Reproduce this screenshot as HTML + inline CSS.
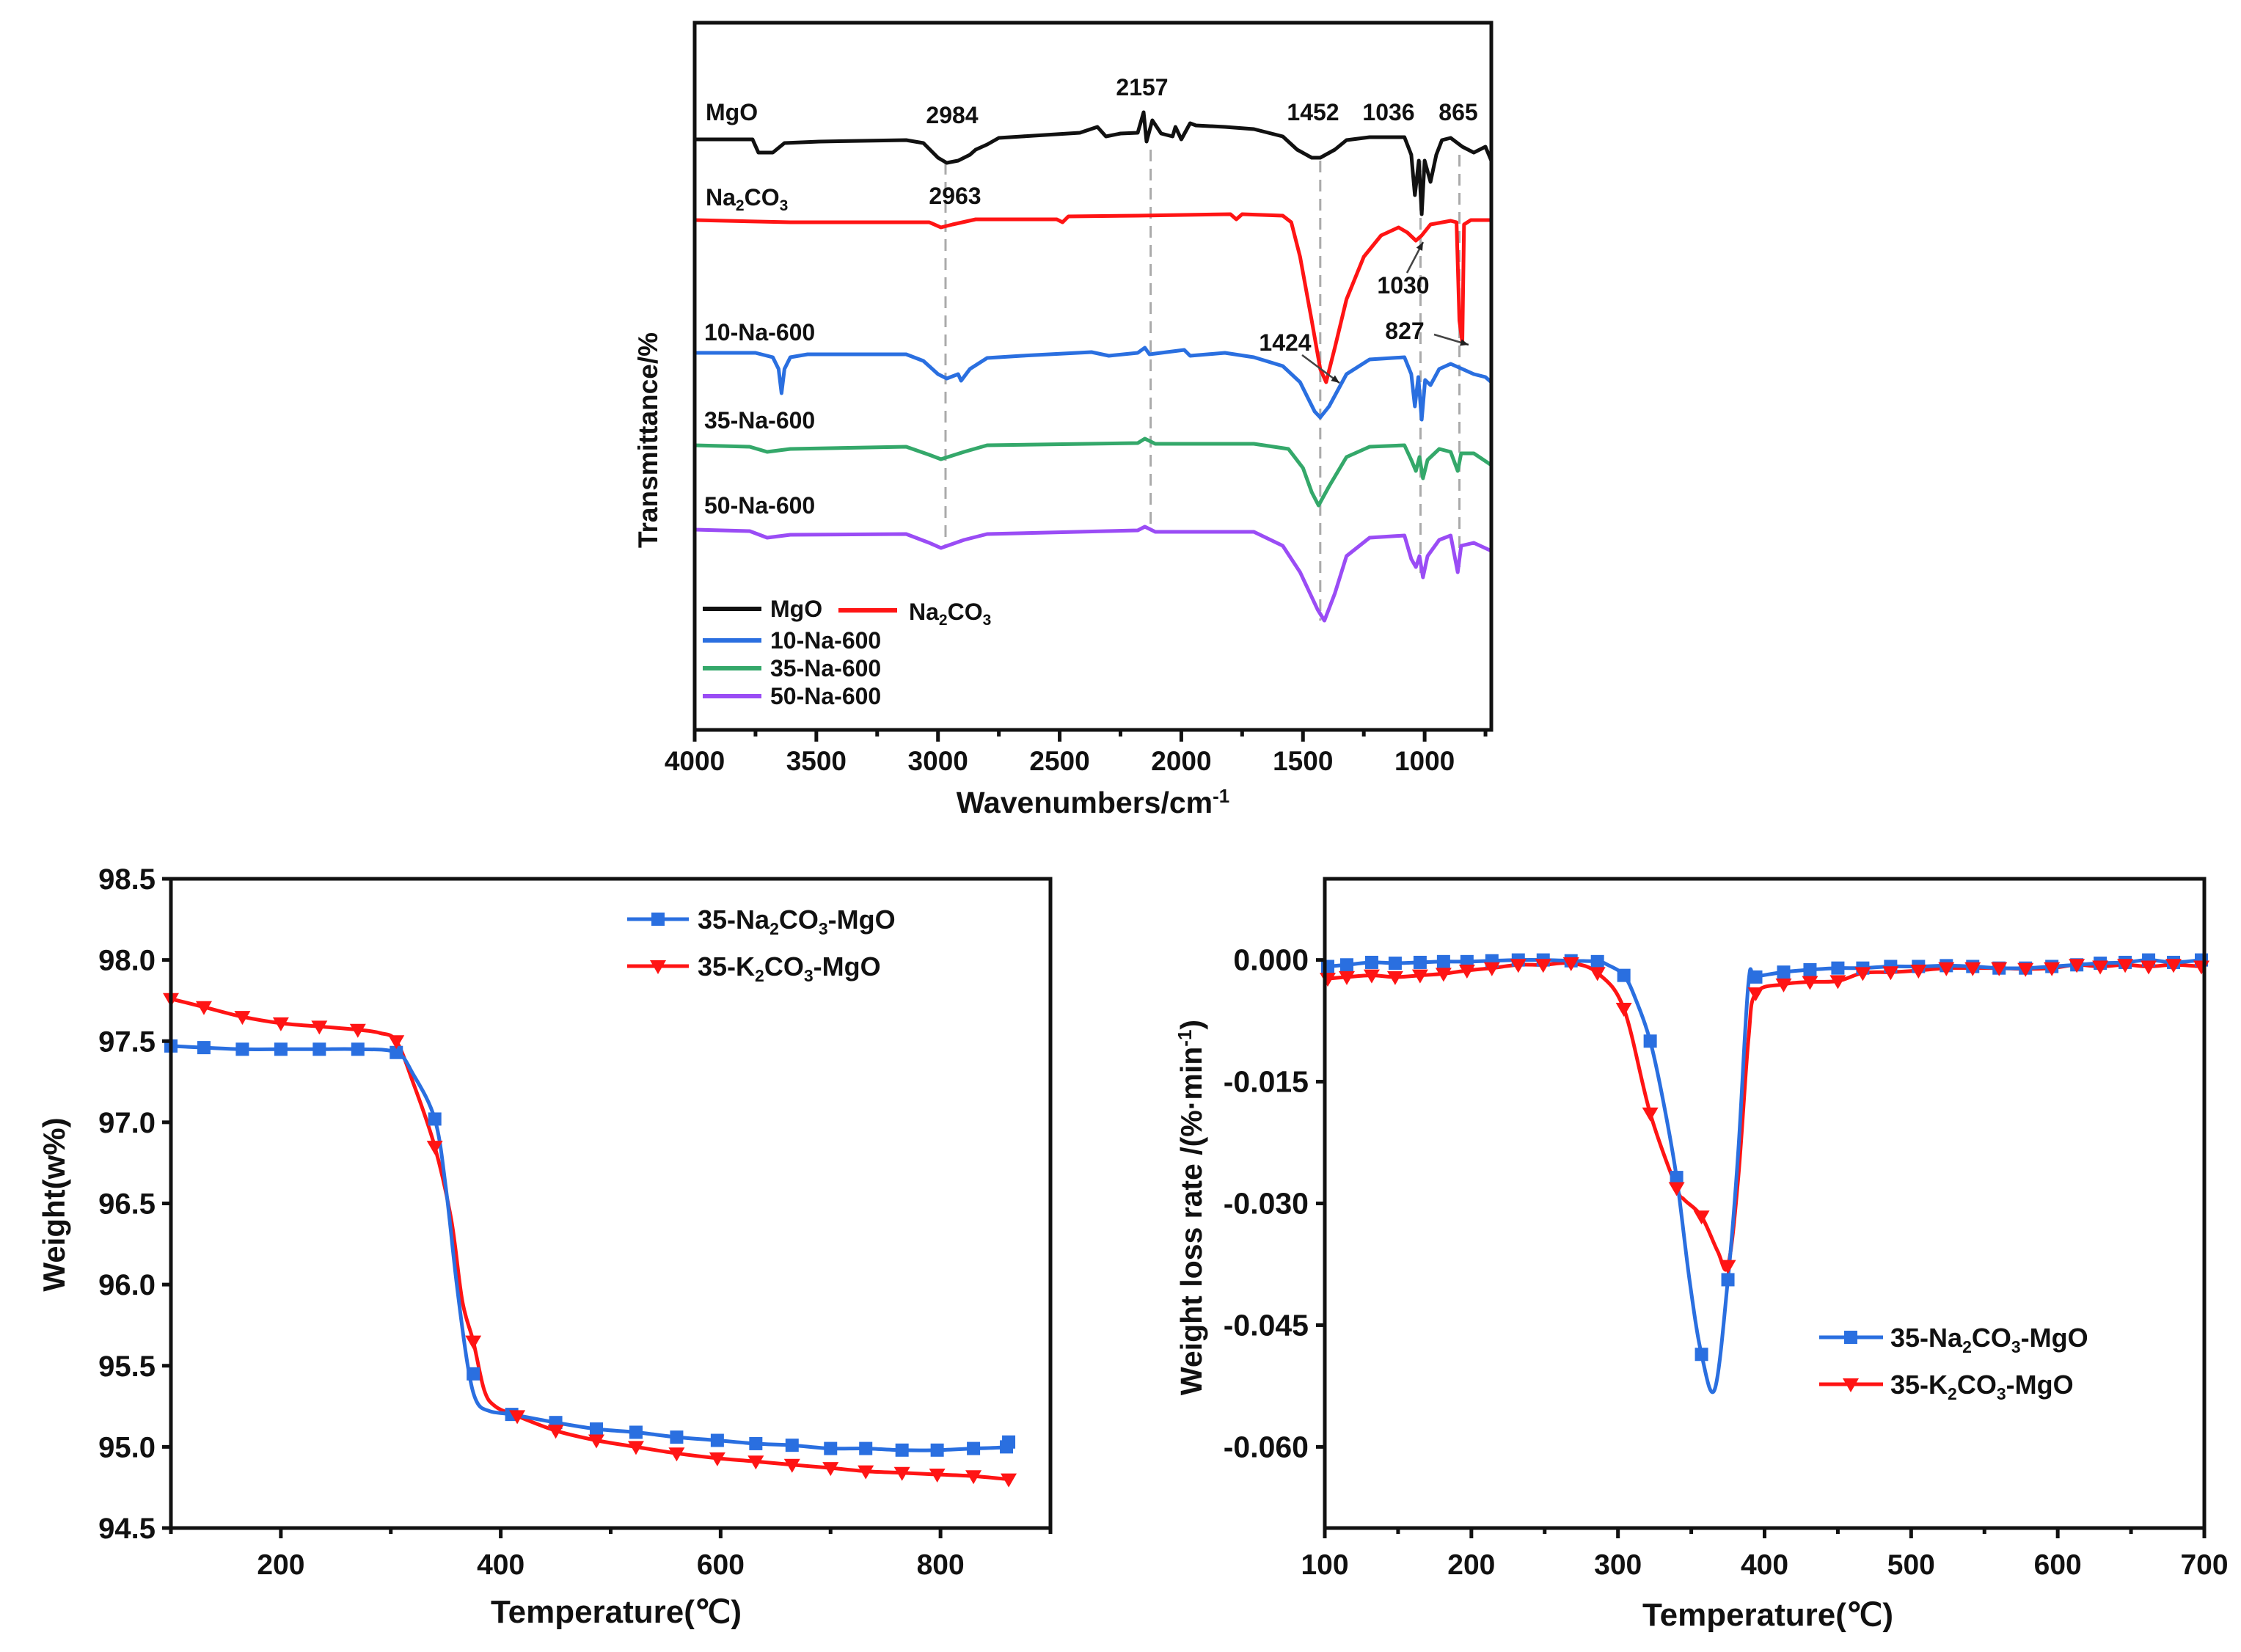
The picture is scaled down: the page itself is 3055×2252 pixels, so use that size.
<!DOCTYPE html>
<html><head><meta charset="utf-8">
<style>
html,body{margin:0;padding:0;background:#fff;}
svg{display:block;font-family:"Liberation Sans",Arial,sans-serif;font-weight:bold;}
</style></head>
<body>
<svg id="fig" width="3055" height="2252" viewBox="0 0 3055 2252" xmlns="http://www.w3.org/2000/svg">
<rect width="3055" height="2252" fill="#fff"/>
<g id="ftir"></g>
<g id="tg"></g>
<g id="dtg"></g>
</svg>
<script>
// ---------- FTIR data (wavenumber cm-1, transmittance a.u.) ----------
const mgoWn=[4000,3762,3738,3679,3631,3488,3131,3060,3000,2964,2917,2869,2845,2798,2750,2655,2417,2345,2310,2250,2179,2155,2143,2119,2083,2036,2024,2000,1964,1940,1821,1702,1583,1524,1464,1429,1369,1321,1226,1083,1055,1040,1024,1012,1000,976,952,929,893,845,798,750,726];
const mgoT=[810,810,792,792,805,807,809,805,785,778,781,789,796,803,812,814,819,827,814,818,819,847,807,836,818,814,827,810,832,829,827,824,814,796,785,785,796,809,813,813,789,734,781,708,781,752,789,809,812,800,792,800,781];
const naWn=[4000,3607,3036,2988,2940,2845,2512,2488,2464,2179,1798,1774,1750,1583,1548,1512,1464,1429,1405,1369,1321,1250,1179,1107,1071,1036,1012,976,893,869,857,845,838,810,726];
const naT=[700,697,697,690,694,701,701,697,705,706,708,701,708,706,697,650,563,497,479,526,592,650,679,690,683,672,679,694,699,697,563,533,694,700,700];
const s10Wn=[4000,3750,3679,3655,3643,3631,3607,3536,3131,3060,3000,2964,2917,2905,2869,2798,2655,2369,2298,2179,2150,2131,1988,1964,1821,1702,1583,1512,1452,1429,1393,1321,1226,1083,1055,1040,1026,1012,998,976,940,893,845,798,750,726];
const s10T=[519,519,513,497,464,497,513,517,517,508,490,484,490,481,497,512,515,520,515,519,526,517,523,515,519,513,501,479,439,431,446,490,510,513,490,446,486,428,482,475,497,504,497,490,486,479];
const s35Wn=[4000,3774,3702,3607,3131,3036,2988,2893,2798,2179,2150,2107,1702,1560,1500,1464,1436,1393,1321,1226,1083,1055,1036,1021,1007,988,940,893,864,850,798,726];
const s35T=[393,391,384,388,391,380,374,384,393,396,402,395,395,388,362,329,311,337,377,391,393,373,358,377,348,373,388,384,358,382,382,366];
const s50Wn=[4000,3774,3702,3607,3131,3036,2988,2893,2798,2179,2150,2107,1702,1583,1512,1440,1412,1369,1321,1226,1083,1055,1036,1021,1007,988,940,893,864,850,798,726];
const s50T=[278,276,267,271,272,260,253,264,272,277,282,275,275,256,220,169,154,191,242,267,270,238,227,242,213,242,264,270,220,256,260,249];
const ftirTicks=[4000,3500,3000,2500,2000,1500,1000];
const guideWn=[2969,2126,1429,1017,857];
const guideTop=[778,796,781,781,789];
const guideBot=[256,278,154,213,220];

// ---------- TG data ----------
const tgNaT=[100,130,165,200,235,270,305,320,340,350,360,370,378,390,410,450,487,523,560,597,632,665,700,732,765,797,830,860,862];
const tgNaW=[97.47,97.46,97.45,97.45,97.45,97.45,97.43,97.3,97.02,96.6,96.0,95.5,95.28,95.22,95.2,95.15,95.11,95.09,95.06,95.04,95.02,95.01,94.99,94.99,94.98,94.98,94.99,95.0,95.03];
const tgNaMarkT=[100,130,165,200,235,270,305,340,375,410,450,487,523,560,597,632,665,700,732,765,797,830,860,862];
const tgNaMarkW=[97.47,97.46,97.45,97.45,97.45,97.45,97.43,97.02,95.45,95.2,95.15,95.11,95.09,95.06,95.04,95.02,95.01,94.99,94.99,94.98,94.98,94.99,95.0,95.03];
const tgKT=[100,130,165,200,235,270,290,305,320,340,355,365,375,385,395,415,450,487,523,560,597,632,665,700,732,765,797,830,862];
const tgKW=[97.76,97.71,97.65,97.61,97.59,97.57,97.55,97.50,97.25,96.85,96.4,95.9,95.65,95.35,95.25,95.19,95.1,95.04,95.0,94.96,94.93,94.91,94.89,94.87,94.85,94.84,94.83,94.82,94.8];
const tgKMarkT=[100,130,165,200,235,270,305,340,375,415,450,487,523,560,597,632,665,700,732,765,797,830,862];
const tgKMarkW=[97.76,97.71,97.65,97.61,97.59,97.57,97.50,96.85,95.65,95.19,95.1,95.04,95.0,94.96,94.93,94.91,94.89,94.87,94.85,94.84,94.83,94.82,94.8];
const tgXTicks=[200,400,600,800];
const tgYTicks=[94.5,95.0,95.5,96.0,96.5,97.0,97.5,98.0,98.5];

// ---------- DTG data ----------
const dtgNaT=[102,115,132,148,165,181,197,214,232,249,268,286,293,304,312,322,331,340,349,357,366,375,382,389,394,413,431,450,467,486,505,524,542,560,578,596,613,629,646,662,679,698];
const dtgNaR=[-0.0008,-0.0006,-0.0003,-0.0004,-0.0003,-0.0002,-0.0002,-0.0001,0,0,-0.0001,-0.0002,-0.0006,-0.0019,-0.0048,-0.0100,-0.0175,-0.0268,-0.0397,-0.0486,-0.0529,-0.0394,-0.0238,-0.0029,-0.0021,-0.0015,-0.0012,-0.0010,-0.0010,-0.0008,-0.0008,-0.0007,-0.0008,-0.0010,-0.0010,-0.0008,-0.0006,-0.0004,-0.0003,0,-0.0003,0];
const dtgNaMarkT=[102,115,132,148,165,181,197,214,232,249,268,286,304,322,340,357,375,394,413,431,450,467,486,505,524,542,560,578,596,613,629,646,662,679,698];
const dtgNaMarkR=[-0.0008,-0.0006,-0.0003,-0.0004,-0.0003,-0.0002,-0.0002,-0.0001,0,0,-0.0001,-0.0002,-0.0019,-0.0100,-0.0268,-0.0486,-0.0394,-0.0021,-0.0015,-0.0012,-0.0010,-0.0010,-0.0008,-0.0008,-0.0007,-0.0008,-0.0010,-0.0010,-0.0008,-0.0006,-0.0004,-0.0003,0,-0.0003,0];
const dtgKT=[102,115,132,148,165,181,197,214,232,249,268,286,304,322,340,345,357,368,375,382,389,394,413,431,450,467,486,505,524,542,560,578,596,613,629,646,662,679,698];
const dtgKR=[-0.0023,-0.0021,-0.0019,-0.0021,-0.0019,-0.0017,-0.0013,-0.0010,-0.0006,-0.0006,-0.0004,-0.0016,-0.0060,-0.0189,-0.0281,-0.0295,-0.0316,-0.0359,-0.0377,-0.0270,-0.0098,-0.0041,-0.0030,-0.0027,-0.0026,-0.0016,-0.0015,-0.0013,-0.0010,-0.0010,-0.0010,-0.0011,-0.0010,-0.0006,-0.0008,-0.0006,-0.0008,-0.0006,-0.0008];
const dtgKMarkT=[102,115,132,148,165,181,197,214,232,249,268,286,304,322,340,357,375,394,413,431,450,467,486,505,524,542,560,578,596,613,629,646,662,679,698];
const dtgKMarkR=[-0.0023,-0.0021,-0.0019,-0.0021,-0.0019,-0.0017,-0.0013,-0.0010,-0.0006,-0.0006,-0.0004,-0.0016,-0.0060,-0.0189,-0.0281,-0.0316,-0.0377,-0.0041,-0.0030,-0.0027,-0.0026,-0.0016,-0.0015,-0.0013,-0.0010,-0.0010,-0.0010,-0.0011,-0.0010,-0.0006,-0.0008,-0.0006,-0.0008,-0.0006,-0.0008];
const dtgXTicks=[100,200,300,400,500,600,700];
const dtgYTicks=[0,-0.015,-0.030,-0.045,-0.060];
const dtgYLabels=["0.000","-0.015","-0.030","-0.045","-0.060"];

const NS="http://www.w3.org/2000/svg";
const BLUE="#2a6fe0",RED="#ff1414",GREEN="#34a86a",PURPLE="#9a4cf5",BLACK="#111";
function el(parent,tag,attrs,text){const e=document.createElementNS(NS,tag);for(const k in attrs)e.setAttribute(k,attrs[k]);if(text!==undefined)e.textContent=text;parent.appendChild(e);return e;}
function lin(d0,d1,r0,r1){return v=>r0+(v-d0)/(d1-d0)*(r1-r0);}
function polyPath(xs,ys,sx,sy){return xs.map((x,i)=>(i?"L":"M")+sx(x).toFixed(1)+","+sy(ys[i]).toFixed(1)).join("");}
function smoothPath(xs,ys,sx,sy){
  const p=xs.map((x,i)=>[sx(x),sy(ys[i])]);let d="M"+p[0][0].toFixed(1)+","+p[0][1].toFixed(1);
  for(let i=0;i<p.length-1;i++){const p0=p[i-1]||p[i],p1=p[i],p2=p[i+1],p3=p[i+2]||p2;
    const c1=[p1[0]+(p2[0]-p0[0])/6,p1[1]+(p2[1]-p0[1])/6],c2=[p2[0]-(p3[0]-p1[0])/6,p2[1]-(p3[1]-p1[1])/6];
    d+="C"+c1.map(v=>v.toFixed(1))+" "+c2.map(v=>v.toFixed(1))+" "+p2[0].toFixed(1)+","+p2[1].toFixed(1);}
  return d;}
function square(g,x,y,c){return el(g,"rect",{x:x-9,y:y-9,width:18,height:18,fill:c});}
function tri(g,x,y,c){return el(g,"polygon",{points:`${x-11},${y-8} ${x+11},${y-8} ${x},${y+11}`,fill:c});}

// ================= FTIR =================
(function(){
  const g=document.getElementById("ftir");
  const L=947,R=2033,T=31,B=995;
  const sx=lin(4000,726,L,R), sy=lin(0,1000,1000,0);
  guideWn.forEach((w,i)=>{const l=el(g,"line",{x1:sx(w),x2:sx(w),y1:sy(guideTop[i]),y2:sy(guideBot[i]),stroke:"#aaa","stroke-width":3,"stroke-dasharray":"16,10"});
    
    });
  const series=[[mgoWn,mgoT,BLACK,"mgo"],[naWn,naT,RED,"na2co3"],[s10Wn,s10T,BLUE,"10-na-600"],[s35Wn,s35T,GREEN,"35-na-600"],[s50Wn,s50T,PURPLE,"50-na-600"]];
  series.forEach(s=>{const p=el(g,"path",{d:polyPath(s[0],s[1],sx,sy),fill:"none",stroke:s[2],"stroke-width":5,"stroke-linejoin":"round"});
    
    });
  el(g,"rect",{x:L,y:T,width:R-L,height:B-T,fill:"none",stroke:BLACK,"stroke-width":5,});
  for(let w=4000;w>=750;w-=250){const major=ftirTicks.includes(w);el(g,"line",{x1:sx(w),x2:sx(w),y1:B,y2:B+(major?16:9),stroke:BLACK,"stroke-width":5});}
  ftirTicks.forEach(w=>{const t=el(g,"text",{x:sx(w),y:1050,"font-size":37,"text-anchor":"middle",fill:BLACK},String(w));
    
    });
  el(g,"text",{x:1490,y:1108,"font-size":41,"text-anchor":"middle",fill:BLACK,}).innerHTML='Wavenumbers/cm<tspan dy="-14" font-size="26">-1</tspan>';
  el(g,"text",{x:0,y:0,"font-size":37,"text-anchor":"middle",fill:BLACK,transform:"translate(896,600) rotate(-90)",},"Transmittance/%");
  const anns=[["MgO",962,164,"start","label-mgo"],["2984",1298,168,"middle","peak-2984"],["2157",1557,130,"middle","peak-2157"],["1452",1790,164,"middle","peak-1452"],["1036",1893,164,"middle","peak-1036"],["865",1988,164,"middle","peak-865"],["2963",1302,278,"middle","peak-2963"],["1030",1913,400,"middle","peak-1030"],["1424",1752,478,"middle","peak-1424"],["827",1915,462,"middle","peak-827"],["10-Na-600",960,464,"start","label-10-na-600"],["35-Na-600",960,584,"start","label-35-na-600"],["50-Na-600",960,700,"start","label-50-na-600"]];
  anns.forEach(a=>{el(g,"text",{x:a[1],y:a[2],"font-size":32,"text-anchor":a[3],fill:BLACK,},a[0]);});
  el(g,"text",{x:962,y:280,"font-size":32,fill:BLACK,}).innerHTML='Na<tspan dy="7" font-size="21">2</tspan><tspan dy="-7">CO</tspan><tspan dy="7" font-size="21">3</tspan>';
  [[1918,372,1940,330],[1775,484,1826,522],[1955,456,2002,470]].forEach(a=>{el(g,"line",{x1:a[0],y1:a[1],x2:a[2],y2:a[3],stroke:"#444","stroke-width":2.5,});
    const ang=Math.atan2(a[3]-a[1],a[2]-a[0]);const h=12;
    el(g,"polygon",{points:`${a[2]},${a[3]} ${a[2]-h*Math.cos(ang-0.4)},${a[3]-h*Math.sin(ang-0.4)} ${a[2]-h*Math.cos(ang+0.4)},${a[3]-h*Math.sin(ang+0.4)}`,fill:"#222"});});
  const lg=el(g,"g",{});
  const rows=[[958,830,BLACK,"MgO"],[1143,832,RED,null],[958,873,BLUE,"10-Na-600"],[958,911,GREEN,"35-Na-600"],[958,949,PURPLE,"50-Na-600"]];
  rows.forEach(r=>{el(lg,"line",{x1:r[0],x2:r[0]+80,y1:r[1],y2:r[1],stroke:r[2],"stroke-width":6});
    if(r[3])el(lg,"text",{x:r[0]+92,y:r[1]+11,"font-size":32,fill:BLACK,},r[3]);});
  el(lg,"text",{x:1239,y:845,"font-size":32,fill:BLACK,}).innerHTML='Na<tspan dy="7" font-size="21">2</tspan><tspan dy="-7">CO</tspan><tspan dy="7" font-size="21">3</tspan>';
})();

// ================= TG =================
(function(){
  const g=document.getElementById("tg");
  const L=233,R=1432,T=1198,B=2083;
  const sx=lin(100,900,L,R), sy=lin(94.5,98.5,B,T);
  const pk=el(g,"path",{d:smoothPath(tgKT,tgKW,sx,sy),fill:"none",stroke:RED,"stroke-width":5});
  
  
  const pn=el(g,"path",{d:smoothPath(tgNaT,tgNaW,sx,sy),fill:"none",stroke:BLUE,"stroke-width":5});
  
  
  tgNaMarkT.forEach((t,i)=>{const m=square(g,sx(t),sy(tgNaMarkW[i]),BLUE);
    
    });
  tgKMarkT.forEach((t,i)=>{const m=tri(g,sx(t),sy(tgKMarkW[i]),RED);
    
    });
  el(g,"rect",{x:L,y:T,width:R-L,height:B-T,fill:"none",stroke:BLACK,"stroke-width":5,});
  for(let t=100;t<=900;t+=100){el(g,"line",{x1:sx(t),x2:sx(t),y1:B,y2:B+(tgXTicks.includes(t)?14:8),stroke:BLACK,"stroke-width":5});}
  tgXTicks.forEach(t=>{const tx=el(g,"text",{x:sx(t),y:2146,"font-size":39,"text-anchor":"middle",fill:BLACK},String(t));
    
    });
  tgYTicks.forEach(v=>{el(g,"line",{x1:L-12,x2:L,y1:sy(v),y2:sy(v),stroke:BLACK,"stroke-width":5});
    const tx=el(g,"text",{x:212,y:sy(v)+14,"font-size":40,"text-anchor":"end",fill:BLACK},v.toFixed(1));
    
    });
  el(g,"text",{x:840,y:2212,"font-size":44,"text-anchor":"middle",fill:BLACK,},"Temperature(℃)");
  el(g,"text",{x:0,y:0,"font-size":42,"text-anchor":"middle",fill:BLACK,transform:"translate(88,1642) rotate(-90)",},"Weight(w%)");
  const lg=el(g,"g",{});
  el(lg,"line",{x1:855,x2:939,y1:1253,y2:1253,stroke:BLUE,"stroke-width":5});square(lg,897,1253,BLUE);
  el(lg,"text",{x:951,y:1266,"font-size":36,fill:BLACK,}).innerHTML='35-Na<tspan dy="8" font-size="23">2</tspan><tspan dy="-8">CO</tspan><tspan dy="8" font-size="23">3</tspan><tspan dy="-8">-MgO</tspan>';
  el(lg,"line",{x1:855,x2:939,y1:1317,y2:1317,stroke:RED,"stroke-width":5});tri(lg,897,1317,RED);
  el(lg,"text",{x:951,y:1330,"font-size":36,fill:BLACK,}).innerHTML='35-K<tspan dy="8" font-size="23">2</tspan><tspan dy="-8">CO</tspan><tspan dy="8" font-size="23">3</tspan><tspan dy="-8">-MgO</tspan>';
})();

// ================= DTG =================
(function(){
  const g=document.getElementById("dtg");
  const L=1806,R=3005,T=1198,B=2083;
  const sx=lin(100,700,L,R), sy=lin(-0.07,0.01,B,T);
  const pk=el(g,"path",{d:smoothPath(dtgKT,dtgKR,sx,sy),fill:"none",stroke:RED,"stroke-width":5});
  
  
  const pn=el(g,"path",{d:smoothPath(dtgNaT,dtgNaR,sx,sy),fill:"none",stroke:BLUE,"stroke-width":5});
  
  
  dtgNaMarkT.forEach((t,i)=>{const m=square(g,sx(t),sy(dtgNaMarkR[i]),BLUE);
    
    });
  dtgKMarkT.forEach((t,i)=>{const m=tri(g,sx(t),sy(dtgKMarkR[i]),RED);
    
    });
  el(g,"rect",{x:L,y:T,width:R-L,height:B-T,fill:"none",stroke:BLACK,"stroke-width":5,});
  for(let t=100;t<=700;t+=50){el(g,"line",{x1:sx(t),x2:sx(t),y1:B,y2:B+(dtgXTicks.includes(t)?14:8),stroke:BLACK,"stroke-width":5});}
  dtgXTicks.forEach(t=>{const tx=el(g,"text",{x:sx(t),y:2146,"font-size":39,"text-anchor":"middle",fill:BLACK},String(t));
    
    });
  dtgYTicks.forEach((v,i)=>{el(g,"line",{x1:L-12,x2:L,y1:sy(v),y2:sy(v),stroke:BLACK,"stroke-width":5});
    const tx=el(g,"text",{x:1784,y:sy(v)+14,"font-size":41,"text-anchor":"end",fill:BLACK},dtgYLabels[i]);
    
    });
  el(g,"text",{x:2410,y:2216,"font-size":44,"text-anchor":"middle",fill:BLACK,},"Temperature(℃)");
  el(g,"text",{x:0,y:0,"font-size":41,"text-anchor":"middle",fill:BLACK,transform:"translate(1638,1646) rotate(-90)",}).innerHTML='Weight loss rate /(%·min<tspan dy="-14" font-size="26">-1</tspan><tspan dy="14">)</tspan>';
  const lg=el(g,"g",{});
  el(lg,"line",{x1:2480,x2:2567,y1:1823,y2:1823,stroke:BLUE,"stroke-width":5});square(lg,2523,1823,BLUE);
  el(lg,"text",{x:2577,y:1836,"font-size":36,fill:BLACK,}).innerHTML='35-Na<tspan dy="8" font-size="23">2</tspan><tspan dy="-8">CO</tspan><tspan dy="8" font-size="23">3</tspan><tspan dy="-8">-MgO</tspan>';
  el(lg,"line",{x1:2480,x2:2567,y1:1887,y2:1887,stroke:RED,"stroke-width":5});tri(lg,2523,1887,RED);
  el(lg,"text",{x:2577,y:1900,"font-size":36,fill:BLACK,}).innerHTML='35-K<tspan dy="8" font-size="23">2</tspan><tspan dy="-8">CO</tspan><tspan dy="8" font-size="23">3</tspan><tspan dy="-8">-MgO</tspan>';
})();
</script>
</body></html>
